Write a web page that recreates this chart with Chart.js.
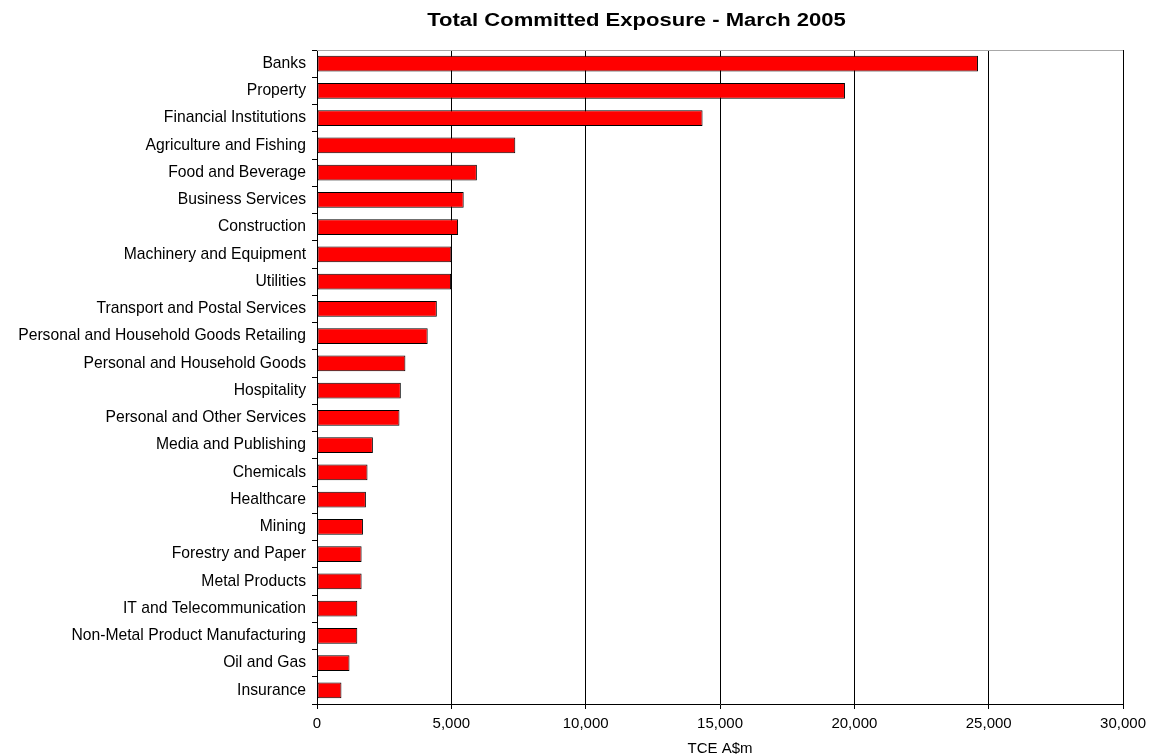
<!DOCTYPE html>
<html>
<head>
<meta charset="utf-8">
<title>Total Committed Exposure - March 2005</title>
<script src="https://cdn.jsdelivr.net/npm/chart.js@4/dist/chart.umd.min.js"></script>
<style>
  html, body { margin: 0; padding: 0; background: #ffffff; }
  #wrap { width: 1152px; height: 756px; position: relative; }
</style>
</head>
<body>
<div id="wrap"><canvas id="chart" width="1152" height="756"></canvas></div>
<script>
// Industry sectors, largest exposure first
const categories = [
  'Banks',
  'Property',
  'Financial Institutions',
  'Agriculture and Fishing',
  'Food and Beverage',
  'Business Services',
  'Construction',
  'Machinery and Equipment',
  'Utilities',
  'Transport and Postal Services',
  'Personal and Household Goods Retailing',
  'Personal and Household Goods',
  'Hospitality',
  'Personal and Other Services',
  'Media and Publishing',
  'Chemicals',
  'Healthcare',
  'Mining',
  'Forestry and Paper',
  'Metal Products',
  'IT and Telecommunication',
  'Non-Metal Product Manufacturing',
  'Oil and Gas',
  'Insurance'
];

// Total committed exposure, A$ millions
const tceValues = [
  24600, 19650, 14350, 7380, 5950, 5460, 5250, 5000, 4990, 4460,
  4120, 3290, 3120, 3070, 2080, 1880, 1820, 1710, 1660, 1660,
  1500, 1500, 1210, 910
];

// Value axis ticks
const axisMin = 0;
const axisMax = 30000;
const axisStep = 5000;

const chartTitle = 'Total Committed Exposure - March 2005';
const axisTitle = 'TCE A$m';

const FONT = "'Liberation Sans', Arial, Helvetica, sans-serif";

// Heading drawn slightly widened, centred over the plot
const titlePlugin = {
  id: 'wideTitle',
  afterDraw(chart) {
    const ctx = chart.ctx;
    ctx.save();
    ctx.font = 'bold 18px ' + FONT;
    ctx.fillStyle = '#000000';
    ctx.textAlign = 'center';
    ctx.textBaseline = 'alphabetic';
    ctx.translate(636.5, 25.5);
    ctx.scale(1.225, 1);
    ctx.fillText(chartTitle, 0, 0);
    ctx.restore();
  }
};

// Thin grey line closing the top of the plot area
const frameTopPlugin = {
  id: 'frameTop',
  afterDatasetsDraw(chart) {
    const { ctx, chartArea } = chart;
    ctx.save();
    ctx.strokeStyle = '#a8a8a8';
    ctx.lineWidth = 1;
    ctx.beginPath();
    ctx.moveTo(chartArea.left, chartArea.top + 0.5);
    ctx.lineTo(chartArea.right, chartArea.top + 0.5);
    ctx.stroke();
    ctx.restore();
  }
};

new Chart(document.getElementById('chart'), {
  type: 'bar',
  data: {
    labels: categories,
    datasets: [{
      label: 'TCE A$m',
      data: tceValues,
      backgroundColor: '#ff0000',
      borderColor: '#000000',
      borderWidth: 1,
      borderSkipped: false,
      barPercentage: 0.57,
      categoryPercentage: 1.0
    }]
  },
  options: {
    indexAxis: 'y',
    responsive: false,
    animation: false,
    devicePixelRatio: 1,
    layout: { padding: { top: 50, right: 28, bottom: 0, left: 0 } },
    plugins: {
      legend: { display: false },
      title: { display: false },
      tooltip: { enabled: false }
    },
    scales: {
      x: {
        type: 'linear',
        position: 'bottom',
        min: axisMin,
        max: axisMax,
        afterFit(scale) { scale.height = 52; },
        ticks: {
          stepSize: axisStep,
          color: '#000000',
          padding: 6,
          font: { family: FONT, size: 15 },
          callback: (v) => Number(v).toLocaleString('en-US')
        },
        grid: {
          color: '#000000',
          lineWidth: 1,
          drawTicks: true,
          tickLength: 5,
          tickColor: '#000000'
        },
        border: { display: true, color: '#000000', width: 1 },
        title: {
          display: true,
          text: axisTitle,
          color: '#000000',
          font: { family: FONT, size: 15, lineHeight: 1 },
          padding: { top: 0, bottom: 0 }
        }
      },
      y: {
        type: 'category',
        afterFit(scale) { scale.width = 317; },
        ticks: {
          color: '#000000',
          padding: 6,
          autoSkip: false,
          font: { family: FONT, size: 15.7 }
        },
        grid: {
          offset: true,
          drawOnChartArea: false,
          drawTicks: true,
          tickLength: 5,
          tickColor: '#000000',
          color: '#000000'
        },
        border: { display: true, color: '#000000', width: 1 }
      }
    }
  },
  plugins: [titlePlugin, frameTopPlugin]
});
</script>
</body>
</html>
